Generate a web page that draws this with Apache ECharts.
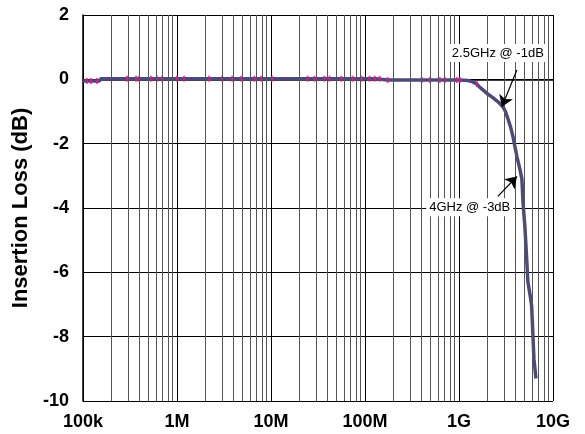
<!DOCTYPE html>
<html>
<head>
<meta charset="utf-8">
<script src="https://cdn.jsdelivr.net/npm/echarts@6/dist/echarts.min.js"></script>
<style>
  html, body { margin: 0; padding: 0; background: #fff; }
  #chart { width: 585px; height: 434px; }
</style>
</head>
<body>
<div id="chart"></div>
<script>
// ---- data ----
var freqHz = [1e5, 1.5e5, 1.55e5, 1e6, 1e7, 1.3e8, 1.75e8, 1.0e9, 1.25e9, 1.4e9, 1.55e9, 1.67e9, 1.85e9, 2.0e9, 2.29e9, 2.6e9, 2.93e9, 3.12e9, 3.31e9, 3.55e9, 3.75e9, 4.13e9, 4.45e9, 4.67e9, 4.79e9, 5.02e9, 5.25e9, 5.41e9, 5.7e9, 5.93e9, 6.12e9, 6.27e9, 6.59e9];
var lossDb = [-0.05, -0.05, 0.02, 0.02, 0.02, 0.02, -0.02, -0.02, -0.04, -0.08, -0.15, -0.25, -0.36, -0.45, -0.57, -0.7, -0.85, -1.0, -1.22, -1.5, -1.78, -2.4, -2.8, -3.1, -3.8, -4.57, -5.6, -6.3, -6.7, -7.05, -7.98, -8.7, -9.3];

// second (magenta) trace, visible only as small marks along the flat part
var magFreqHz = [1.1e5, 1.22e5, 1.41e5, 2.94e5, 3.67e5, 3.95e5, 5.31e5, 6.15e5, 6.95e5, 1.0e6, 1.19e6, 2.2e6, 3.03e6, 3.87e6, 4.83e6, 6.65e6, 7.9e6, 1.03e7, 2.45e7, 2.9e7, 3.7e7, 4.2e7, 5.6e7, 7.4e7, 9.2e7, 1.12e8, 1.27e8, 1.43e8, 1.74e8, 4.01e8, 4.89e8, 6.24e8, 7.06e8, 9.48e8, 1.02e9, 1.55e9];
var magDb = [-0.05, -0.05, -0.05, 0.02, 0.02, 0.02, 0.02, 0.02, 0.02, 0.02, 0.02, 0.02, 0.02, 0.02, 0.02, 0.02, 0.02, 0.02, 0.02, 0.02, 0.02, 0.02, 0.02, 0.02, 0.02, 0.02, 0.02, 0.02, -0.02, -0.02, -0.02, -0.02, -0.02, -0.02, -0.02, -0.15];

var xTickValues = [1e5, 1e6, 1e7, 1e8, 1e9, 1e10];
var xTickLabels = ['100k', '1M', '10M', '100M', '1G', '10G'];
var minorMultipliers = [2, 3, 4, 5, 6, 7, 8, 9];

var yMin = -10, yMax = 2, yStep = 2;
var yTitle = 'Insertion Loss (dB)';

// annotations
var noteTexts = ['2.5GHz @ -1dB', '4GHz @ -3dB'];
var noteAt = [[2.59e9, 0.82], [1.30e9, -3.98]];
var arrowFrom = [[4.13e9, 0.29], [2.59e9, -3.64]];
var arrowTo = [[2.86e9, -0.85], [4.13e9, -3.02]];

// ---- build ----
var lineData = freqHz.map(function (f, i) { return [f, lossDb[i]]; });
var magData = magFreqHz.map(function (f, i) { return [f, magDb[i]]; });

var minorLines = [];
for (var d = 0; d < xTickValues.length - 1; d++) {
  minorMultipliers.forEach(function (m) {
    minorLines.push({ xAxis: xTickValues[d] * m });
  });
}

var chart = echarts.init(document.getElementById('chart'), null, { renderer: 'canvas' });
var font = '"Liberation Sans", Arial, Helvetica, sans-serif';

chart.setOption({
  animation: false,
  backgroundColor: '#fff',
  grid: { left: 83, right: 32, top: 15, bottom: 33, containLabel: false },
  xAxis: {
    type: 'log',
    logBase: 10,
    min: xTickValues[0],
    max: xTickValues[xTickValues.length - 1],
    axisLine: { show: true, lineStyle: { color: '#000', width: 1.5 } },
    axisTick: { show: false },
    splitLine: { show: true, lineStyle: { color: '#000', width: 1 } },
    axisLabel: {
      margin: 12,
      color: '#000',
      fontFamily: font,
      fontWeight: 'bold',
      fontSize: 18,
      formatter: function (v) {
        for (var i = 0; i < xTickValues.length; i++) {
          if (Math.abs(Math.log10(v) - Math.log10(xTickValues[i])) < 1e-6) return xTickLabels[i];
        }
        return '';
      }
    }
  },
  yAxis: {
    type: 'value',
    min: yMin,
    max: yMax,
    interval: yStep,
    name: yTitle,
    nameLocation: 'middle',
    nameGap: 46,
    nameTextStyle: { color: '#000', fontFamily: font, fontWeight: 'bold', fontSize: 22 },
    axisLine: { show: true, lineStyle: { color: '#000', width: 1.5 } },
    axisTick: { show: false },
    splitLine: { show: true, lineStyle: { color: '#000', width: 1 } },
    axisLabel: { margin: 14, color: '#000', fontFamily: font, fontWeight: 'bold', fontSize: 18 }
  },
  series: [
    {
      type: 'line',
      name: 'grid',
      data: [[xTickValues[0], 0]],
      showSymbol: false,
      silent: true,
      lineStyle: { opacity: 0 },
      z: 1,
      markLine: {
        silent: true,
        symbol: ['none', 'none'],
        label: { show: false },
        lineStyle: { color: '#555', width: 1, type: 'solid' },
        data: minorLines
      }
    },
    {
      type: 'line',
      name: 'S21',
      data: lineData,
      showSymbol: false,
      z: 3,
      lineStyle: { color: '#4b4b7b', width: 3.5 },
      markLine: {
        silent: true,
        symbol: ['none', 'arrow'],
        symbolSize: 11,
        label: { show: false },
        lineStyle: { color: '#000', width: 1.2, type: 'solid' },
        data: arrowFrom.map(function (a, i) {
          return [{ coord: a }, { coord: arrowTo[i] }];
        })
      },
      markPoint: {
        silent: true,
        symbol: 'rect',
        symbolSize: 0,
        label: {
          show: true,
          position: 'inside',
          color: '#000',
          fontFamily: font,
          fontSize: 13,
          backgroundColor: '#fff',
          padding: [3, 3, 2, 3],
          formatter: function (p) { return p.name; }
        },
        data: noteTexts.map(function (t, i) {
          return { name: t, coord: noteAt[i] };
        })
      }
    },
    {
      type: 'scatter',
      name: 'S21 b',
      data: magData,
      symbol: 'rect',
      symbolSize: [2, 6],
      z: 4,
      itemStyle: { color: '#e8178a' }
    }
  ]
});
</script>
</body>
</html>
